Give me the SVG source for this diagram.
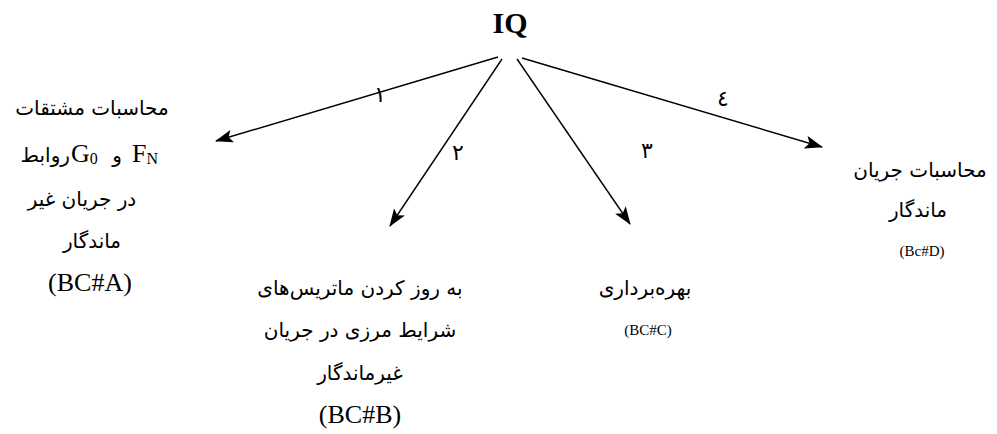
<svg xmlns="http://www.w3.org/2000/svg" width="997" height="434" viewBox="0 0 997 434">
<style>
.fa{font-family:"DejaVu Sans","Noto Sans",sans-serif;font-size:20px;fill:#000;direction:rtl;}
.fl{font-family:"DejaVu Sans","Noto Sans",sans-serif;font-size:20px;fill:#000;}
.lat{font-family:"Liberation Serif","Times New Roman",serif;fill:#000;}
.big{font-size:26px;}
.sm{font-size:15px;}
.num{font-family:"DejaVu Sans",sans-serif;font-size:22px;fill:#000;}
.edge{stroke:#000;stroke-width:1.4;fill:none;marker-end:url(#ah);}
</style>
<defs>
<marker id="ah" markerWidth="18" markerHeight="13" refX="17" refY="6.5" orient="auto" markerUnits="userSpaceOnUse">
<path d="M0,0 L18,6.5 L0,13 L4,6.5 Z" fill="#000"/>
</marker>
</defs>
<g id="root">
<text x="510" y="33" class="lat" font-size="30" font-weight="bold" text-anchor="middle">IQ</text>
</g>
<g id="connectors">
<line class="edge" x1="498" y1="57" x2="216" y2="141"/>
<line class="edge" x1="502" y1="59" x2="390" y2="226"/>
<line class="edge" x1="517" y1="59" x2="630" y2="224"/>
<line class="edge" x1="522" y1="58" x2="822" y2="147"/>
<text x="380" y="102" class="num" text-anchor="middle">۱</text>
<text x="458" y="160" class="num" text-anchor="middle">۲</text>
<text x="647" y="158" class="num" text-anchor="middle">۳</text>
<text x="723" y="106" class="num" text-anchor="middle">٤</text>
</g>
<g id="nodeA">
<text x="92" y="115" class="fa" text-anchor="middle">محاسبات مشتقات</text>
<text x="70" y="162" class="fl" text-anchor="end">روابط</text>
<text x="71" y="162" class="lat big">G<tspan font-size="16" dy="2">0</tspan></text>
<text x="122" y="162" class="fl" text-anchor="end">و</text>
<text x="132" y="162" class="lat big">F<tspan font-size="16" dy="2">N</tspan></text>
<text x="82" y="206" class="fa" text-anchor="middle">در جریان غیر</text>
<text x="92" y="248" class="fa" text-anchor="middle">ماندگار</text>
<text x="90" y="291" class="lat big" text-anchor="middle">(BC#A)</text>
</g>
<g id="nodeB">
<text x="360" y="295" class="fa" text-anchor="middle">به روز کردن ماتریس‌های</text>
<text x="360" y="337" class="fa" text-anchor="middle">شرایط مرزی در جریان</text>
<text x="360" y="380" class="fa" text-anchor="middle">غیرماندگار</text>
<text x="360" y="423" class="lat big" text-anchor="middle">(BC#B)</text>
</g>
<g id="nodeC">
<text x="645" y="295" class="fa" text-anchor="middle">بهره‌برداری</text>
<text x="648" y="335" class="lat sm" text-anchor="middle">(BC#C)</text>
</g>
<g id="nodeD">
<text x="920" y="177" class="fa" text-anchor="middle">محاسبات جریان</text>
<text x="918" y="217" class="fa" text-anchor="middle">ماندگار</text>
<text x="922" y="256" class="lat sm" text-anchor="middle">(Bc#D)</text>
</g>
</svg>
